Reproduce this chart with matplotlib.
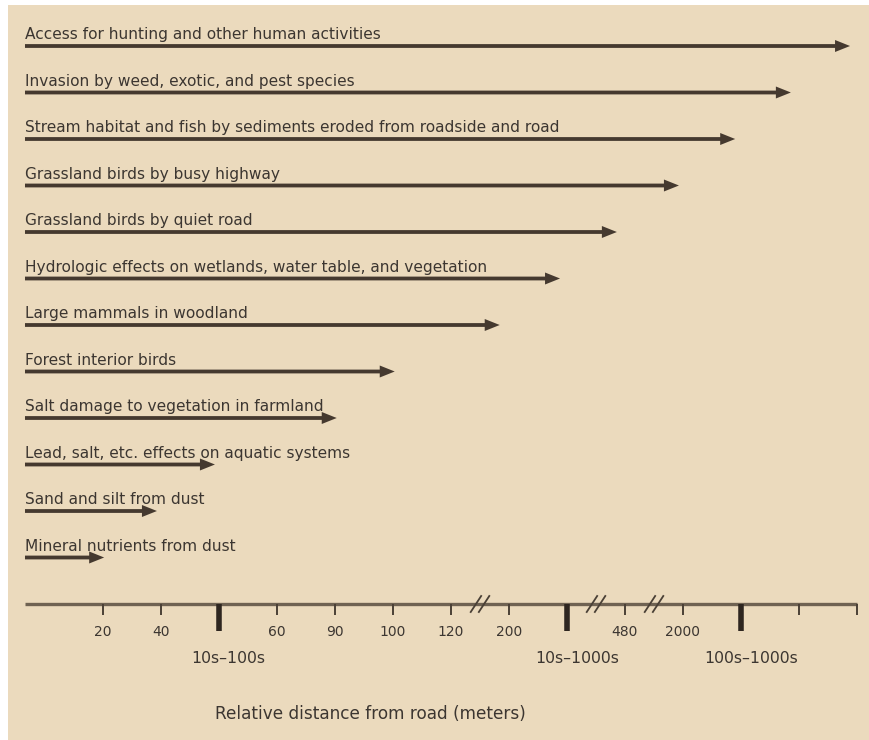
import matplotlib
matplotlib.use("Agg")
import matplotlib.pyplot as plt
from matplotlib.patches import Rectangle
import numpy as np

plt.rcParams['font.family'] = ['DejaVu Sans']

effects = [
    "Access for hunting and other human activities",
    "Invasion by weed, exotic, and pest species",
    "Stream habitat and fish by sediments eroded from roadside and road",
    "Grassland birds by busy highway",
    "Grassland birds by quiet road",
    "Hydrologic effects on wetlands, water table, and vegetation",
    "Large mammals in woodland",
    "Forest interior birds",
    "Salt damage to vegetation in farmland",
    "Lead, salt, etc. effects on aquatic systems",
    "Sand and silt from dust",
    "Mineral nutrients from dust",
]
# arrow end positions on the (non-linear) relative distance scale, tick units
arrow_end = [13.88, 12.86, 11.90, 10.93, 9.86, 8.88, 7.84, 6.03, 5.03, 2.93, 1.93, 1.02]

tick_pos = list(range(1, 15))
tick_labels = ["20", "40", "", "60", "90", "100", "120", "200", "", "480", "2000", "", "", ""]
major_pos = [3, 9, 12]
major_labels = ["10s\u2013100s", "10s\u20131000s", "100s\u20131000s"]
break_pos = [7.5, 9.5, 10.5]
axis_start = -0.345
xlabel = "Relative distance from road (meters)"

# layout helpers (pixel geometry)
PX_X = 58.0      # pixels per tick unit
PX_Y = 46.5      # pixels per row
X0PX = 103.0     # pixel of tick 1
Y0PX = 46.0      # pixel of row 0
W, H = 870, 740

fig = plt.figure(figsize=(W / 100, H / 100), dpi=100)
fig.patch.set_facecolor("white")
fig.add_artist(Rectangle((8 / W, 0), 1 - 8 / W, 1 - 5 / H, transform=fig.transFigure,
                         facecolor="#ebdabd", edgecolor="none", zorder=0))
ax = fig.add_axes([0, 0, 1, 1])
ax.set_facecolor("none")
ax.set_xlim(1 - X0PX / PX_X, 1 + (W - X0PX) / PX_X)
ax.set_ylim((H - Y0PX) / PX_Y, -Y0PX / PX_Y)
ax.axis("off")

arrow_col = "#45392f"
text_col = "#3c3631"
axis_row = len(effects)

for i, (lab, end) in enumerate(zip(effects, arrow_end)):
    ax.arrow(axis_start, i, end - axis_start, 0,
             width=3.8 / PX_Y, head_width=12 / PX_Y, head_length=15 / PX_X,
             length_includes_head=True, color=arrow_col, lw=0, zorder=3)
    ax.text(axis_start, i - 7 / PX_Y, lab, ha="left", va="baseline",
            fontsize=11.1, color=text_col)

# axis line
ax.plot([axis_start, tick_pos[-1]], [axis_row, axis_row], color="#6f6252", lw=2.4,
        solid_capstyle="butt", zorder=2)

for p, t in zip(tick_pos, tick_labels):
    if p in major_pos:
        ax.plot([p, p], [axis_row, axis_row + 27 / PX_Y], color="#2e2620", lw=4,
                solid_capstyle="butt", zorder=3)
    else:
        ax.plot([p, p], [axis_row, axis_row + 11 / PX_Y], color="#4a4036", lw=1.4,
                solid_capstyle="butt", zorder=3)
    if t:
        ax.text(p, axis_row + 28 / PX_Y, t, ha="center", va="center",
                fontsize=10, color=text_col)

for p, t in zip(major_pos, major_labels):
    ax.annotate(t, xy=(p, axis_row + 54 / PX_Y), xytext=(7, 0), textcoords="offset points",
                ha="center", va="center", fontsize=11.3, color=text_col)

# axis break marks
for b in break_pos:
    for d in (-0.07, 0.07):
        ax.plot([b + d - 0.09, b + d + 0.09],
                [axis_row + 8 / PX_Y, axis_row - 8 / PX_Y],
                color="#4a4036", lw=1.3, zorder=4)

ax.text(370 / PX_X + 1 - X0PX / PX_X, (714 - Y0PX) / PX_Y, xlabel,
        ha="center", va="center", fontsize=12.2, color=text_col)

fig.savefig("out.png", dpi=100, facecolor=fig.get_facecolor())
